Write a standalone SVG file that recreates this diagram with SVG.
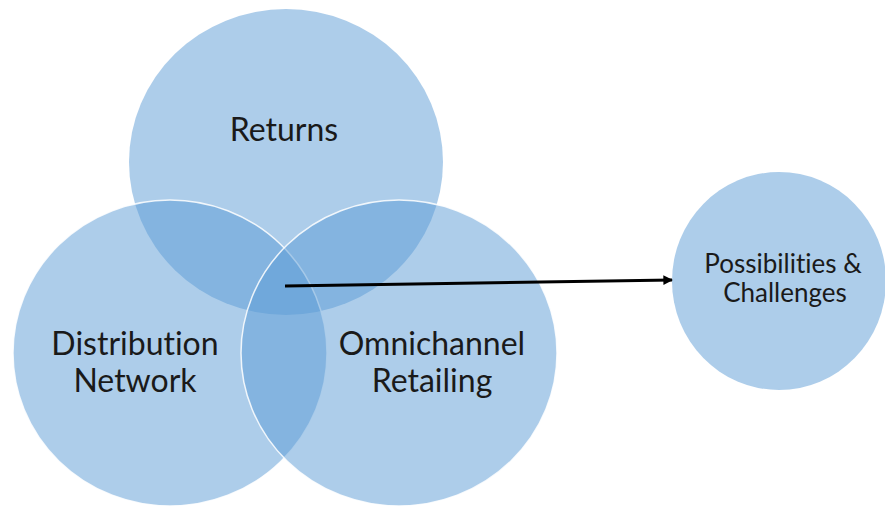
<svg xmlns="http://www.w3.org/2000/svg" width="885" height="506" viewBox="0 0 885 506">
<defs>
<style>
.c{fill:#5B9BD5;fill-opacity:0.5}
.s{stroke:#ffffff;stroke-width:1.5;stroke-opacity:0.85}
.t{font-family:Lato,"Open Sans","Liberation Sans",sans-serif;fill:#1a1a1a;text-anchor:middle;font-variant-ligatures:none}
.big{font-size:32px}
.sm{font-size:26px}
</style>
<marker id="ah" viewBox="0 0 10 10" refX="9" refY="5" markerWidth="3.2" markerHeight="3.2" orient="auto" markerUnits="strokeWidth">
<path d="M0,0 L10,5 L0,10 z" fill="#000"/>
</marker>
</defs>
<rect width="885" height="506" fill="#ffffff"/>
<g id="returns">
<ellipse class="c" cx="286" cy="162" rx="157" ry="153"/>
<text class="t big" x="284" y="141">Returns</text>
</g>
<g id="distribution">
<ellipse class="c s" cx="170" cy="353" rx="157" ry="153"/>
<text class="t big" x="135" y="355">Distribution</text>
<text class="t big" x="135" y="392">Network</text>
</g>
<g id="omnichannel">
<ellipse class="c s" cx="399" cy="353" rx="158" ry="153"/>
<text class="t big" x="432" y="355">Omnichannel</text>
<text class="t big" x="432" y="392">Retailing</text>
</g>
<g id="possibilities">
<ellipse class="c" cx="779" cy="281" rx="107" ry="109"/>
<text class="t sm" x="783" y="273">Possibilities &amp;</text>
<text class="t sm" x="785" y="302">Challenges</text>
</g>
<g id="connectors">
<line x1="285" y1="286" x2="672" y2="280" stroke="#000" stroke-width="3" marker-end="url(#ah)"/>
</g>
</svg>
